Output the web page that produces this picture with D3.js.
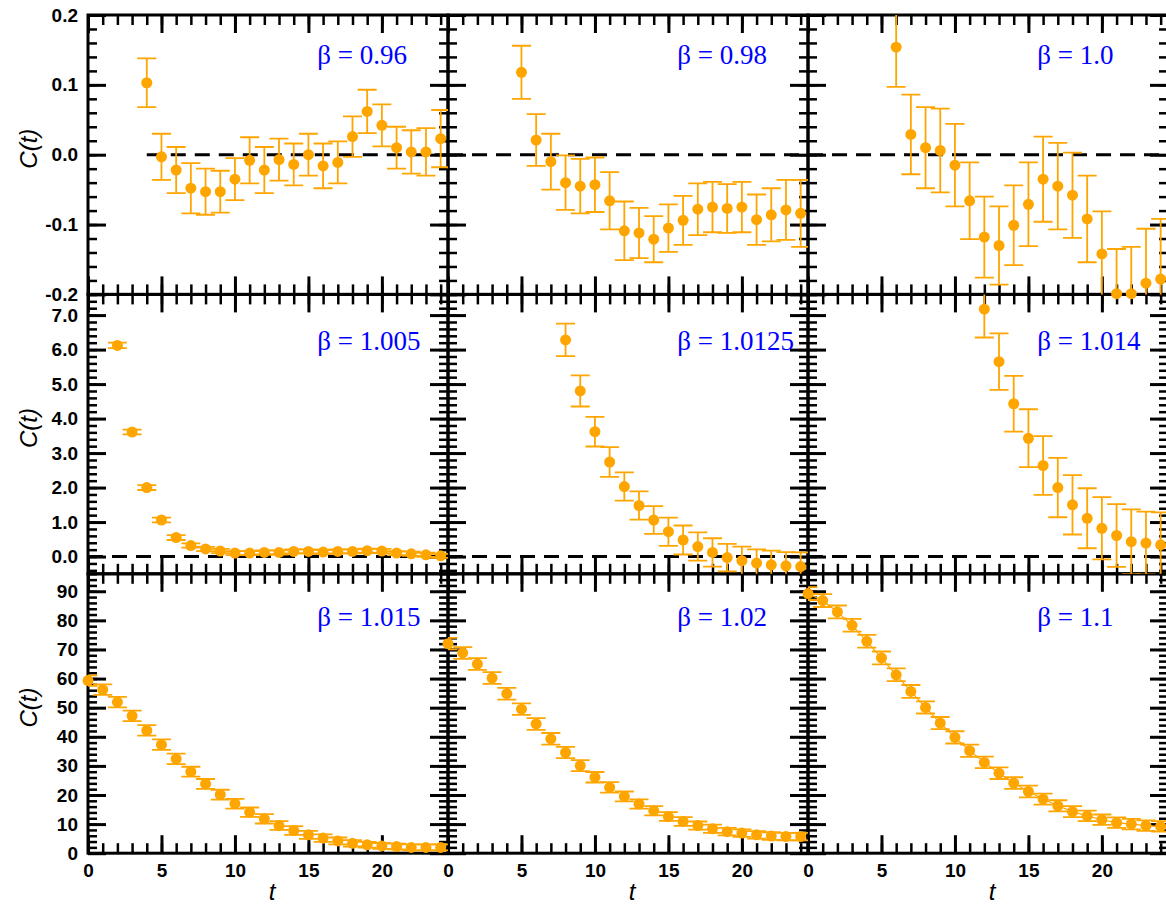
<!DOCTYPE html>
<html>
<head>
<meta charset="utf-8">
<script src="https://cdn.jsdelivr.net/npm/d3@7"></script>
<style>
  body { margin: 0; background: #fff; }
</style>
</head>
<body>
<div id="chart"></div>
<script>
// beta de cada panel (fila por fila)
const betas = ['0.96', '0.98', '1.0', '1.005', '1.0125', '1.014', '1.015', '1.02', '1.1']
// primer t de cada serie
const tStart = [4, 5, 6, 2, 8, 12, 0, 0, 0]

// C(t)
const C_096 = [0.103, -0.003, -0.022, -0.048, -0.053, -0.053, -0.035, -0.008, -0.022, -0.007, -0.014, 0.000, -0.016, -0.011, 0.026, 0.062, 0.042, 0.010, 0.004, 0.004, 0.023]
const E_096 = [0.035, 0.033, 0.033, 0.036, 0.033, 0.030, 0.030, 0.033, 0.033, 0.030, 0.030, 0.030, 0.032, 0.030, 0.029, 0.031, 0.030, 0.030, 0.031, 0.034, 0.041]
const C_098 = [0.118, 0.021, -0.010, -0.040, -0.045, -0.043, -0.066, -0.109, -0.112, -0.121, -0.105, -0.094, -0.078, -0.075, -0.077, -0.075, -0.093, -0.086, -0.079, -0.084]
const E_098 = [0.038, 0.037, 0.040, 0.039, 0.039, 0.039, 0.041, 0.042, 0.036, 0.033, 0.034, 0.035, 0.037, 0.036, 0.035, 0.036, 0.036, 0.038, 0.043, 0.048]
const C_100 = [0.154, 0.029, 0.010, 0.006, -0.015, -0.066, -0.118, -0.130, -0.101, -0.071, -0.035, -0.045, -0.058, -0.092, -0.142, -0.199, -0.199, -0.184, -0.178]
const E_100 = [0.057, 0.057, 0.058, 0.060, 0.059, 0.055, 0.058, 0.056, 0.057, 0.060, 0.061, 0.062, 0.061, 0.062, 0.061, 0.064, 0.067, 0.078, 0.086]
const C_1005 = [6.12, 3.61, 2.00, 1.06, 0.55, 0.32, 0.22, 0.16, 0.10, 0.10, 0.12, 0.12, 0.15, 0.15, 0.13, 0.15, 0.15, 0.17, 0.16, 0.10, 0.08, 0.05, 0.02]
const E_1005 = [0.08, 0.07, 0.07, 0.07, 0.07, 0.06, 0.06, 0.06, 0.06, 0.06, 0.06, 0.06, 0.06, 0.06, 0.06, 0.06, 0.06, 0.06, 0.06, 0.06, 0.06, 0.06, 0.06]
const C_10125 = [6.28, 4.80, 3.62, 2.74, 2.03, 1.48, 1.06, 0.72, 0.48, 0.29, 0.12, -0.03, -0.12, -0.19, -0.24, -0.27, -0.29]
const E_10125 = [0.47, 0.45, 0.43, 0.43, 0.41, 0.41, 0.40, 0.41, 0.42, 0.41, 0.41, 0.40, 0.41, 0.40, 0.41, 0.40, 0.41]
const C_1014 = [7.17, 5.65, 4.43, 3.43, 2.64, 2.00, 1.50, 1.11, 0.82, 0.61, 0.43, 0.39, 0.34]
const E_1014 = [0.82, 0.82, 0.81, 0.84, 0.85, 0.86, 0.86, 0.87, 0.90, 0.91, 0.94, 0.91, 0.94]
const C_1015 = [59.3, 56.2, 51.9, 47.2, 42.2, 37.3, 32.4, 28.0, 23.8, 20.1, 17.0, 14.1, 11.8, 9.5, 7.8, 6.3, 5.2, 4.2, 3.4, 2.9, 2.5, 2.3, 2.0, 2.0, 2.0]
const E_1015 = [1.8, 1.8, 1.8, 1.8, 1.8, 1.8, 1.8, 1.7, 1.7, 1.7, 1.7, 1.6, 1.6, 1.5, 1.5, 1.4, 1.3, 1.2, 1.1, 1.0, 1.0, 1.0, 1.0, 1.0, 1.0]
const C_102 = [72.0, 68.8, 65.0, 60.2, 54.8, 49.5, 44.4, 39.3, 34.6, 30.1, 26.1, 22.6, 19.5, 16.9, 14.6, 12.6, 10.9, 9.5, 8.4, 7.4, 6.9, 6.3, 5.9, 5.7, 5.7]
const E_102 = [2.0, 2.0, 2.0, 2.0, 2.0, 2.0, 2.0, 2.0, 1.9, 1.9, 1.8, 1.8, 1.7, 1.6, 1.6, 1.5, 1.5, 1.4, 1.4, 1.3, 1.3, 1.3, 1.3, 1.3, 1.3]
const C_110 = [89.2, 86.8, 82.9, 78.3, 72.8, 67.1, 61.3, 55.6, 50.1, 44.7, 39.8, 35.2, 31.2, 27.5, 24.1, 21.2, 18.6, 16.3, 14.3, 12.8, 11.5, 10.5, 10.0, 9.5, 9.2]
const E_110 = [2.2, 2.2, 2.2, 2.2, 2.2, 2.2, 2.2, 2.2, 2.1, 2.1, 2.1, 2.1, 2.0, 2.0, 2.0, 2.0, 1.9, 1.9, 1.9, 1.8, 1.8, 1.8, 1.8, 1.8, 1.8]

const series = [C_096, C_098, C_100, C_1005, C_10125, C_1014, C_1015, C_102, C_110]
const errors = [E_096, E_098, E_100, E_1005, E_10125, E_1014, E_1015, E_102, E_110]

// ejes
const xDomain = [0, 24.5]
const xLabels = [0, 5, 10, 15, 20]
const yDomains = [[-0.2, 0.2], [-0.5, 7.6], [0, 96]]
const yLabels = [[-0.2, -0.1, 0, 0.1, 0.2], [0, 1, 2, 3, 4, 5, 6, 7], [0, 10, 20, 30, 40, 50, 60, 70, 80, 90]]
const yMinorStep = [0.02, 0.2, 2]
const yMinorFrom = [-0.2, -0.4, 0]

// Configuración del gráfico
var width = 1166, height = 907
var margin = { top: 15, left: 88 }
var panelW = 360, panelH = 279.4
var orange = '#FFA500'
var dashFrom = [4, 0, 0, 0, 0, 0]   // t donde empieza la linea de trazos
var labelT = 15.6                   // posicion del texto beta
var labelY = [0.13, 6.0, 78]

var svg = d3.select('#chart')
  .append('svg')
  .attr('width', width)
  .attr('height', height)

var x = d3.scaleLinear().domain(xDomain).range([0, panelW])
var yScale = row => d3.scaleLinear().domain(yDomains[row]).range([panelH, 0])

var panels = betas.map((b, i) => ({
  i: i, row: Math.floor(i / 3), col: i % 3, beta: b,
  pts: series[i].map((v, k) => ({ t: tStart[i] + k, v: v, e: errors[i][k] }))
}))

function ticks(g, axis, tr, sw) {
  g.append('g').attr('transform', tr).call(axis)
    .call(s => s.select('.domain').remove())
    .call(s => s.selectAll('text').remove())
    .call(s => s.selectAll('line').attr('stroke', '#000').attr('stroke-width', sw))
}

/* marcos y ticks */
panels.forEach(p => {
  var y = yScale(p.row)
  var g = svg.append('g')
    .attr('transform', 'translate(' + (margin.left + p.col * panelW) + ',' + (margin.top + p.row * panelH) + ')')

  var xMinor = d3.range(0, 25, 1)
  var yMinor = d3.range(yMinorFrom[p.row], yDomains[p.row][1] + 1e-6, yMinorStep[p.row])

  ticks(g, d3.axisBottom(x).tickValues(xMinor).tickSize(-10), 'translate(0,' + panelH + ')', 2.5)
  ticks(g, d3.axisBottom(x).tickValues(xLabels).tickSize(-18), 'translate(0,' + panelH + ')', 3)
  ticks(g, d3.axisTop(x).tickValues(xMinor).tickSize(-10), 'translate(0,0)', 2.5)
  ticks(g, d3.axisTop(x).tickValues(xLabels).tickSize(-18), 'translate(0,0)', 3)
  ticks(g, d3.axisLeft(y).tickValues(yMinor).tickSize(-9), 'translate(0,0)', 2.5)
  ticks(g, d3.axisLeft(y).tickValues(yLabels[p.row]).tickSize(-18), 'translate(0,0)', 3)
  ticks(g, d3.axisRight(y).tickValues(yMinor).tickSize(-9), 'translate(' + panelW + ',0)', 2.5)
  ticks(g, d3.axisRight(y).tickValues(yLabels[p.row]).tickSize(-18), 'translate(' + panelW + ',0)', 3)

  g.append('rect')
    .attr('width', panelW).attr('height', panelH)
    .attr('fill', 'none').attr('stroke', '#000').attr('stroke-width', 3)

  // etiquetas del eje y (solo columna izquierda)
  if (p.col == 0) {
    var fmt = p.row < 2 ? (v => v.toFixed(1)) : (v => String(v))
    g.append('g').call(d3.axisLeft(y).tickValues(yLabels[p.row]).tickSize(0).tickPadding(10).tickFormat(fmt))
      .call(s => s.select('.domain').remove())
      .selectAll('text')
      .attr('font-family', '"Liberation Sans", Arial, sans-serif')
      .attr('font-weight', 'bold').attr('font-size', 19).attr('fill', '#000')

    svg.append('text')
      .attr('transform', 'translate(37,' + (margin.top + p.row * panelH + panelH / 2 - 6) + ') rotate(-90)')
      .attr('text-anchor', 'middle')
      .attr('font-family', '"Liberation Sans", Arial, sans-serif')
      .attr('font-style', 'italic').attr('font-size', 24)
      .text('C(t)')
  }
  // etiquetas del eje x (solo fila de abajo)
  if (p.row == 2) {
    g.append('g').attr('transform', 'translate(0,' + panelH + ')')
      .call(d3.axisBottom(x).tickValues(xLabels).tickSize(0).tickPadding(10))
      .call(s => s.select('.domain').remove())
      .selectAll('text')
      .attr('font-family', '"Liberation Sans", Arial, sans-serif')
      .attr('font-weight', 'bold').attr('font-size', 19).attr('fill', '#000')

    g.append('text')
      .attr('x', panelW / 2 + 4).attr('y', panelH + 47)
      .attr('text-anchor', 'middle')
      .attr('font-family', '"Liberation Sans", Arial, sans-serif')
      .attr('font-style', 'italic').attr('font-size', 24)
      .text('t')
  }
})

/* datos */
panels.forEach(p => {
  var y = yScale(p.row)
  var g = svg.append('g')
    .attr('transform', 'translate(' + (margin.left + p.col * panelW) + ',' + (margin.top + p.row * panelH) + ')')

  g.append('clipPath').attr('id', 'clip' + p.i)
    .append('rect').attr('width', panelW).attr('height', panelH)

  if (p.row < 2) {
    g.append('line')
      .attr('x1', x(dashFrom[p.i])).attr('x2', panelW)
      .attr('y1', y(0)).attr('y2', y(0))
      .attr('stroke', '#000').attr('stroke-width', 3)
      .attr('stroke-dasharray', '15,9')
  }

  if (p.beta == '1.1') {
    g.append('path')
      .datum(p.pts)
      .attr('fill', 'none').attr('stroke', orange).attr('stroke-width', 1.2)
      .attr('d', d3.line().x(d => x(d.t)).y(d => y(d.v)))
  }

  var eb = g.append('g').attr('clip-path', 'url(#clip' + p.i + ')')
    .attr('stroke', orange).attr('stroke-width', 1.8)
  eb.selectAll('line.v').data(p.pts).enter().append('line')
    .attr('x1', d => x(d.t)).attr('x2', d => x(d.t))
    .attr('y1', d => y(d.v - d.e)).attr('y2', d => y(d.v + d.e))
  eb.selectAll('line.top').data(p.pts).enter().append('line')
    .attr('x1', d => x(d.t) - 9.5).attr('x2', d => x(d.t) + 9.5)
    .attr('y1', d => y(d.v + d.e)).attr('y2', d => y(d.v + d.e))
  eb.selectAll('line.bot').data(p.pts).enter().append('line')
    .attr('x1', d => x(d.t) - 9.5).attr('x2', d => x(d.t) + 9.5)
    .attr('y1', d => y(d.v - d.e)).attr('y2', d => y(d.v - d.e))

  g.selectAll('circle').data(p.pts).enter().append('circle')
    .attr('cx', d => x(d.t)).attr('cy', d => y(d.v))
    .attr('r', 5.5)
    .style('fill', orange)

  g.append('text')
    .attr('x', x(labelT)).attr('y', y(labelY[p.row]))
    .attr('font-family', '"Liberation Serif", "Times New Roman", serif')
    .attr('font-size', 27).attr('fill', '#0000ff')
    .text('β = ' + p.beta)
})
</script>
</body>
</html>
